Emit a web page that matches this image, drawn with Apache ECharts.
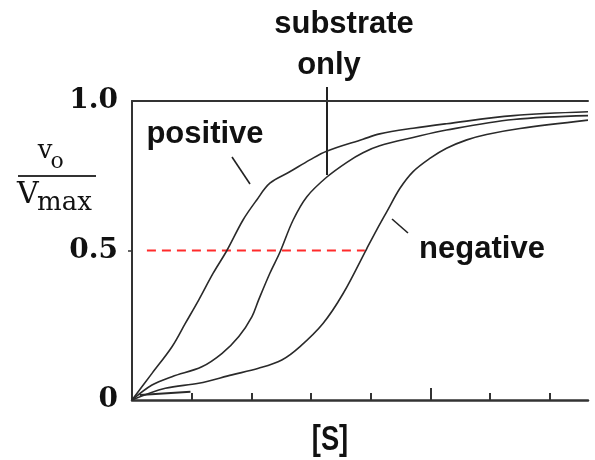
<!DOCTYPE html>
<html>
<head>
    <meta charset="utf-8">
    <title>Allosteric effectors</title>
    <script src="https://cdn.jsdelivr.net/npm/echarts@6/dist/echarts.min.js"></script>
    <style>
        html, body { margin: 0; padding: 0; background: #fff; }
    </style>
</head>
<body>
<div id="main" style="width: 595px;height:460px;"></div>
<script type="text/javascript">
    // [S] (arbitrary units) vs v0/Vmax
    var positiveCurve = [
        [0, 0], [0.335, 0.089], [0.67, 0.178], [0.893, 0.256], [1.117, 0.334],
        [1.36, 0.424], [1.59, 0.5], [1.86, 0.602], [2.09, 0.669], [2.31, 0.725],
        [2.65, 0.764], [2.98, 0.803], [3.26, 0.832], [3.87, 0.872], [4.15, 0.89],
        [4.71, 0.909], [5.27, 0.924], [6.39, 0.951], [7.64, 0.964]
    ];
    var substrateCurve = [
        [0, 0], [0.335, 0.05], [0.67, 0.078], [1.17, 0.111], [1.51, 0.156],
        [1.79, 0.212], [2.01, 0.279], [2.12, 0.334], [2.31, 0.424], [2.48, 0.495],
        [2.7, 0.602], [2.93, 0.68], [3.26, 0.745], [3.6, 0.795], [3.87, 0.827],
        [4.15, 0.85], [4.71, 0.878], [5.27, 0.903], [6.39, 0.938], [7.64, 0.951]
    ];
    var negativeCurve = [
        [0, 0], [0.558, 0.039], [1.117, 0.056], [1.675, 0.084], [2.12, 0.106],
        [2.51, 0.134], [2.81, 0.178], [3.2, 0.256], [3.54, 0.357], [3.93, 0.505],
        [4.1, 0.569], [4.27, 0.63], [4.49, 0.708], [4.71, 0.764], [4.99, 0.808],
        [5.27, 0.842], [5.61, 0.87], [5.94, 0.888], [6.5, 0.908], [7.64, 0.936]
    ];
    // short stroke near the origin
    var originStroke = [[0.13, 0.017], [0.98, 0.028]];
    // half-saturation guide
    var halfLine = [[0.25, 0.5], [3.9, 0.5]];

    var xTicks = [1, 2, 3, 4, 6, 7];
    var xMajorTicks = [5];
    var yTicks = [0.5];
    var yLabels = {0: '0', 0.5: '0.5', 1: '1.0'};

    var myChart = echarts.init(document.getElementById('main'));

    var sans = '"Liberation Sans", Arial, sans-serif';
    var serif = '"DejaVu Serif", "Liberation Serif", serif';
    var ink = '#111';

    function curve(name, data) {
        return {
            name: name,
            type: 'line',
            data: data,
            smooth: 0.35,
            symbol: 'none',
            lineStyle: {color: '#2a2a2a', width: 1.6},
            silent: true
        };
    }

    option = {
        animation: false,
        backgroundColor: '#fff',
        grid: {left: 132, top: 101, right: 7, bottom: 60},
        xAxis: [
            {
                type: 'value', min: 0, max: 7.64, position: 'bottom',
                axisLine: {show: true, lineStyle: {color: '#333', width: 2.5}},
                axisTick: {show: true, inside: true, length: 7, customValues: xTicks,
                    lineStyle: {color: '#333', width: 2}},
                axisLabel: {show: false},
                splitLine: {show: false}
            },
            {
                type: 'value', min: 0, max: 7.64, position: 'bottom',
                axisLine: {show: false},
                axisTick: {show: true, inside: true, length: 12, customValues: xMajorTicks,
                    lineStyle: {color: '#333', width: 2}},
                axisLabel: {show: false},
                splitLine: {show: false}
            },
            {
                type: 'value', min: 0, max: 7.64, position: 'top',
                axisLine: {show: true, lineStyle: {color: '#333', width: 2}},
                axisTick: {show: false},
                axisLabel: {show: false},
                splitLine: {show: false}
            }
        ],
        yAxis: {
            type: 'value', min: 0, max: 1, interval: 0.5,
            axisLine: {show: true, lineStyle: {color: '#333', width: 2}},
            axisTick: {show: true, length: 4, customValues: yTicks,
                lineStyle: {color: '#333', width: 1.5}},
            axisLabel: {
                margin: 14,
                fontFamily: serif, fontWeight: 'bold', fontSize: 28, color: ink,
                formatter: function (v) { return yLabels[v]; }
            },
            splitLine: {show: false}
        },
        series: [
            {
                name: 'half',
                type: 'line',
                data: halfLine,
                symbol: 'none',
                lineStyle: {color: '#ff2b2b', width: 2, type: [9, 6]},
                silent: true
            },
            curve('positive', positiveCurve),
            curve('substrate only', substrateCurve),
            curve('negative', negativeCurve),
            {
                name: 'stroke',
                type: 'line',
                data: originStroke,
                symbol: 'none',
                lineStyle: {color: '#2a2a2a', width: 2},
                silent: true
            }
        ],
        graphic: [
            // curve labels and their pointers
            {type: 'text', style: {text: 'positive', x: 205, y: 134, align: 'center', verticalAlign: 'middle',
                fontFamily: sans, fontWeight: 'bold', fontSize: 31, fill: ink}},
            {type: 'line', shape: {x1: 232, y1: 157, x2: 250, y2: 184}, style: {stroke: '#222', lineWidth: 1.6}},
            {type: 'text', style: {text: 'negative', x: 482, y: 249, align: 'center', verticalAlign: 'middle',
                fontFamily: sans, fontWeight: 'bold', fontSize: 31, fill: ink}},
            {type: 'line', shape: {x1: 392, y1: 219, x2: 408, y2: 233}, style: {stroke: '#222', lineWidth: 1.6}},
            {type: 'text', style: {text: 'substrate', x: 344, y: 24, align: 'center', verticalAlign: 'middle',
                fontFamily: sans, fontWeight: 'bold', fontSize: 31, fill: ink}},
            {type: 'text', style: {text: 'only', x: 329, y: 65, align: 'center', verticalAlign: 'middle',
                fontFamily: sans, fontWeight: 'bold', fontSize: 31, fill: ink}},
            {type: 'line', shape: {x1: 327, y1: 87, x2: 327, y2: 175}, style: {stroke: '#222', lineWidth: 2}},
            // x axis name, a little condensed
            {type: 'text', x: 330, y: 440, scaleX: 0.78,
                style: {text: '[S]', x: 0, y: 0, align: 'center', verticalAlign: 'middle',
                fontFamily: sans, fontWeight: 'bold', fontSize: 35, fill: ink}},
            // y axis name: v0 / Vmax
            {type: 'text', style: {text: 'v', x: 45, y: 151, align: 'center', verticalAlign: 'middle',
                fontFamily: serif, fontSize: 26, fill: ink}},
            {type: 'text', style: {text: 'o', x: 57, y: 162, align: 'center', verticalAlign: 'middle',
                fontFamily: serif, fontSize: 22, fill: ink}},
            {type: 'line', shape: {x1: 18, y1: 176, x2: 96, y2: 176}, style: {stroke: '#333', lineWidth: 2}},
            {type: 'text', style: {text: 'V', x: 17, y: 195, align: 'left', verticalAlign: 'middle',
                fontFamily: serif, fontSize: 30, fill: ink}},
            {type: 'text', style: {text: 'max', x: 37, y: 203, align: 'left', verticalAlign: 'middle',
                fontFamily: serif, fontSize: 26, fill: ink}}
        ]
    };

    myChart.setOption(option);
</script>
</body>
</html>
